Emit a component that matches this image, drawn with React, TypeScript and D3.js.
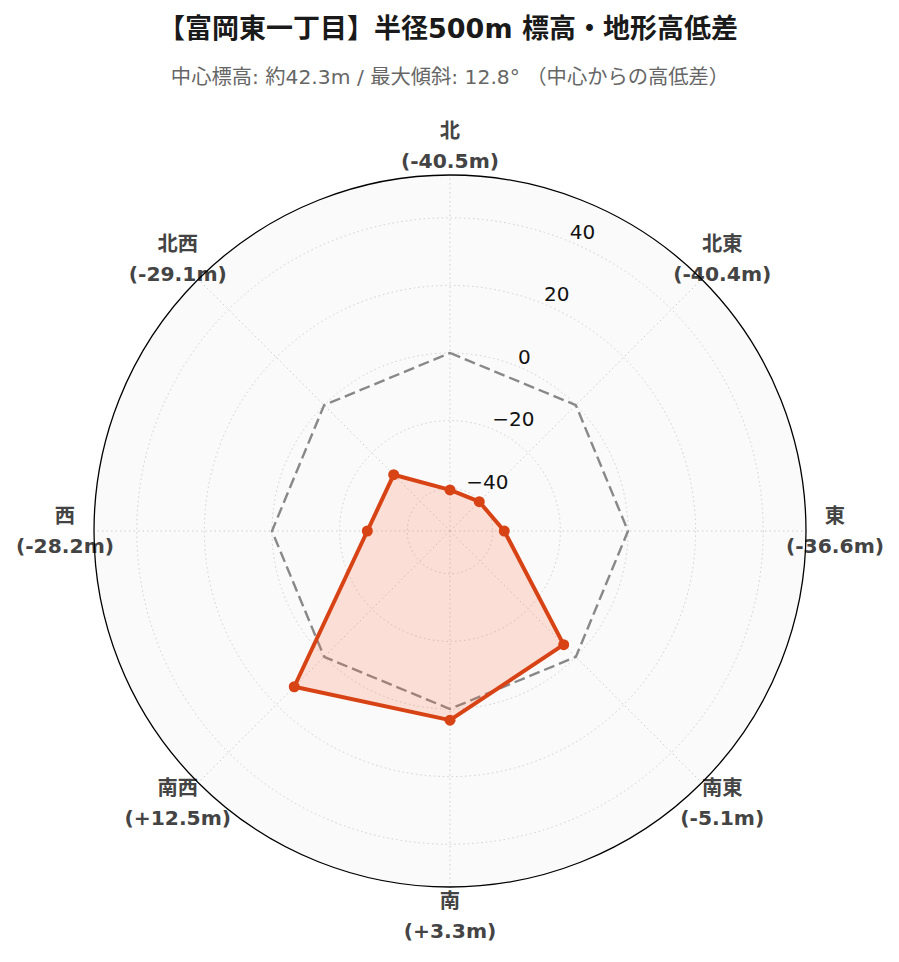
import React from "react";
import * as d3 from "d3";

const directions = ["北", "北東", "東", "南東", "南", "南西", "西", "北西"];
const elevationDiffs = [-40.5, -40.4, -36.6, -5.1, 3.3, 12.5, -28.2, -29.1];
const radialTicks = [-40, -20, 0, 20, 40];
const referenceValue = 0;
const title = "【富岡東一丁目】半径500m 標高・地形高低差";
const subtitle = "中心標高: 約42.3m / 最大傾斜: 12.8° （中心からの高低差）";

const W = 899;
const H = 962;
const CX = 450;
const CY = 531;
const R = 356;
const FONT = "'DejaVu Sans', 'Noto Sans CJK JP', sans-serif";

export default function App() {
  const maxAbs = d3.max(elevationDiffs, (d) => Math.abs(d)) as number;
  const lim = maxAbs * 1.3;
  const r = d3.scaleLinear().domain([-lim, lim]).range([0, R]);
  const n = directions.length;
  const angle = (i: number) => (i * 2 * Math.PI) / n; // clockwise from north
  const px = (i: number, v: number) => Math.sin(angle(i)) * r(v);
  const py = (i: number, v: number) => -Math.cos(angle(i)) * r(v);

  const radial = d3
    .lineRadial<number>()
    .angle((_, i) => angle(i))
    .radius((d) => r(d))
    .curve(d3.curveLinearClosed);

  const refData = directions.map(() => referenceValue);
  const rlabelAngle = (22.5 * Math.PI) / 180;

  const fmt = (v: number) => (v > 0 ? `(+${v.toFixed(1)}m)` : `(${v.toFixed(1)}m)`);

  return (
    <svg width={W} height={H} style={{ display: "block", position: "absolute", left: 0, top: 0 }} fontFamily={FONT}>
      <rect width={W} height={H} fill="#ffffff" />
      <text x={W / 2 - 1.5} y={38} textAnchor="middle" fontSize={27} fontWeight="bold" fill="#1a1a1a">
        {title}
      </text>
      <text x={W / 2 + 0.5} y={84} textAnchor="middle" fontSize={20.3} fill="#666666">
        {subtitle}
      </text>
      <g transform={`translate(${CX},${CY})`}>
        <circle r={R} fill="#fafafa" />
        {radialTicks.map((t) => (
          <circle key={t} r={r(t)} fill="none" stroke="#cfcfcf" strokeWidth={1} strokeDasharray="1.5,3" />
        ))}
        {directions.map((_, i) => (
          <line
            key={i}
            x1={0}
            y1={0}
            x2={Math.sin(angle(i)) * R}
            y2={-Math.cos(angle(i)) * R}
            stroke="#cfcfcf"
            strokeWidth={1}
            strokeDasharray="1.5,3"
          />
        ))}
        <path d={radial(refData) as string} fill="none" stroke="#888888" strokeWidth={2.4} strokeDasharray="11,5" />
        <path
          d={radial(elevationDiffs) as string}
          fill="rgba(255,112,67,0.2)"
          stroke="#D84315"
          strokeWidth={4}
          strokeLinejoin="round"
        />
        {elevationDiffs.map((v, i) => (
          <circle key={i} cx={px(i, v)} cy={py(i, v)} r={5.5} fill="#D84315" />
        ))}
        {radialTicks.map((t) => (
          <text
            key={t}
            x={Math.sin(rlabelAngle) * r(t)}
            y={-Math.cos(rlabelAngle) * r(t) - 3}
            fontSize={20}
            fill="#111"
            fontFamily="'DejaVu Sans', sans-serif"
          >
            {t < 0 ? `−${Math.abs(t)}` : `${t}`}
          </text>
        ))}
        {directions.map((d, i) => {
          const lx = Math.sin(angle(i)) * 385;
          const ly = -Math.cos(angle(i)) * 385;
          return (
            <g key={d} fontWeight="bold" fill="#444444" fontSize={20.3} textAnchor="middle">
              <text x={lx} y={ly - 15} dominantBaseline="central">
                {d}
              </text>
              <text x={lx} y={ly + 15} dominantBaseline="central">
                {fmt(elevationDiffs[i])}
              </text>
            </g>
          );
        })}
        <circle r={R} fill="none" stroke="#000" strokeWidth={1.3} />
      </g>
    </svg>
  );
}
